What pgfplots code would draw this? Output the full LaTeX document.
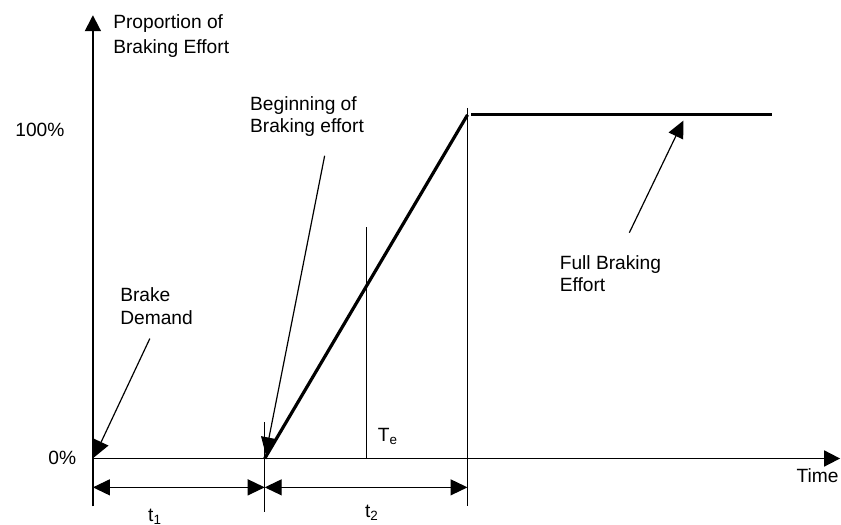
\documentclass[border=0pt]{standalone}
\usepackage{fontspec}
\setmainfont{Liberation Sans}
\usepackage{pgfplots}
\pgfplotsset{compat=1.18}
\usetikzlibrary{arrows.meta}
% x: pixel offset from the y axis, y: percent of braking effort
\begin{document}
\begin{tikzpicture}
\begin{axis}[scale only axis,width=420.5pt,height=262.5pt,
 xmin=-93,xmax=748,ymin=-19.19,ymax=133.43,axis lines=none,clip=false,
 every axis plot/.append style={black,no markers},
 nodes={font=\fontsize{9.6}{12}\selectfont,inner sep=0pt,anchor=base west}]
\addplot[draw=none] coordinates {(-93,-19.19)(748,133.43)};
% axes
\addplot[line width=0.9pt,-{Triangle[length=8pt,width=8pt]}] coordinates {(0,-13.95)(0,129)};
\addplot[line width=0.9pt,-{Triangle[length=8pt,width=8pt]}] coordinates {(0,0)(748,0)};
% braking effort
\addplot[line width=1.6pt] coordinates {(172,0)(375,100)};
\addplot[line width=1.6pt] coordinates {(379,100)(680,100)};
% markers
\addplot[line width=0.6pt] coordinates {(172,10.5)(172,-15.7)};
\addplot[line width=0.8pt] coordinates {(375,102)(375,-13.95)};
\addplot[line width=0.6pt] coordinates {(274,0)(274,67.4)};
% time intervals
\addplot[line width=0.6pt,{Triangle[length=8.5pt,width=8pt]}-{Triangle[length=8.5pt,width=8pt]}] coordinates {(0,-8.4)(172,-8.4)};
\addplot[line width=0.6pt,{Triangle[length=8.5pt,width=8pt]}-{Triangle[length=8.5pt,width=8pt]}] coordinates {(172,-8.4)(375,-8.4)};
% callouts
\addplot[line width=0.6pt,-{Triangle[length=8.5pt,width=8pt]}] coordinates {(57,34.9)(1,0.3)};
\addplot[line width=0.6pt,-{Triangle[length=8.5pt,width=8pt]}] coordinates {(232,88.1)(173,1.2)};
\addplot[line width=0.6pt,-{Triangle[length=8.5pt,width=8pt]}] coordinates {(537,65.7)(591,98.3)};
% labels
\node at (axis cs:20,125.0) {Proportion of};
\node at (axis cs:20,118.0) {Braking Effort};
\node at (axis cs:-78,93.6) {100\%};
\node at (axis cs:-45,-1.74) {0\%};
\node at (axis cs:157,101.2) {Beginning of};
\node at (axis cs:157,94.8) {Braking effort};
\node at (axis cs:27,45.6) {Brake};
\node at (axis cs:27,39.0) {Demand};
\node at (axis cs:467,54.9) {Full Braking};
\node at (axis cs:467,48.5) {Effort};
\node at (axis cs:285,4.9) {T\textsubscript{e}};
\node at (axis cs:704,-7.0) {Time};
\node at (axis cs:55,-18.4) {t\textsubscript{1}};
\node at (axis cs:272,-17.2) {t\textsubscript{2}};
\end{axis}
\end{tikzpicture}
\end{document}
